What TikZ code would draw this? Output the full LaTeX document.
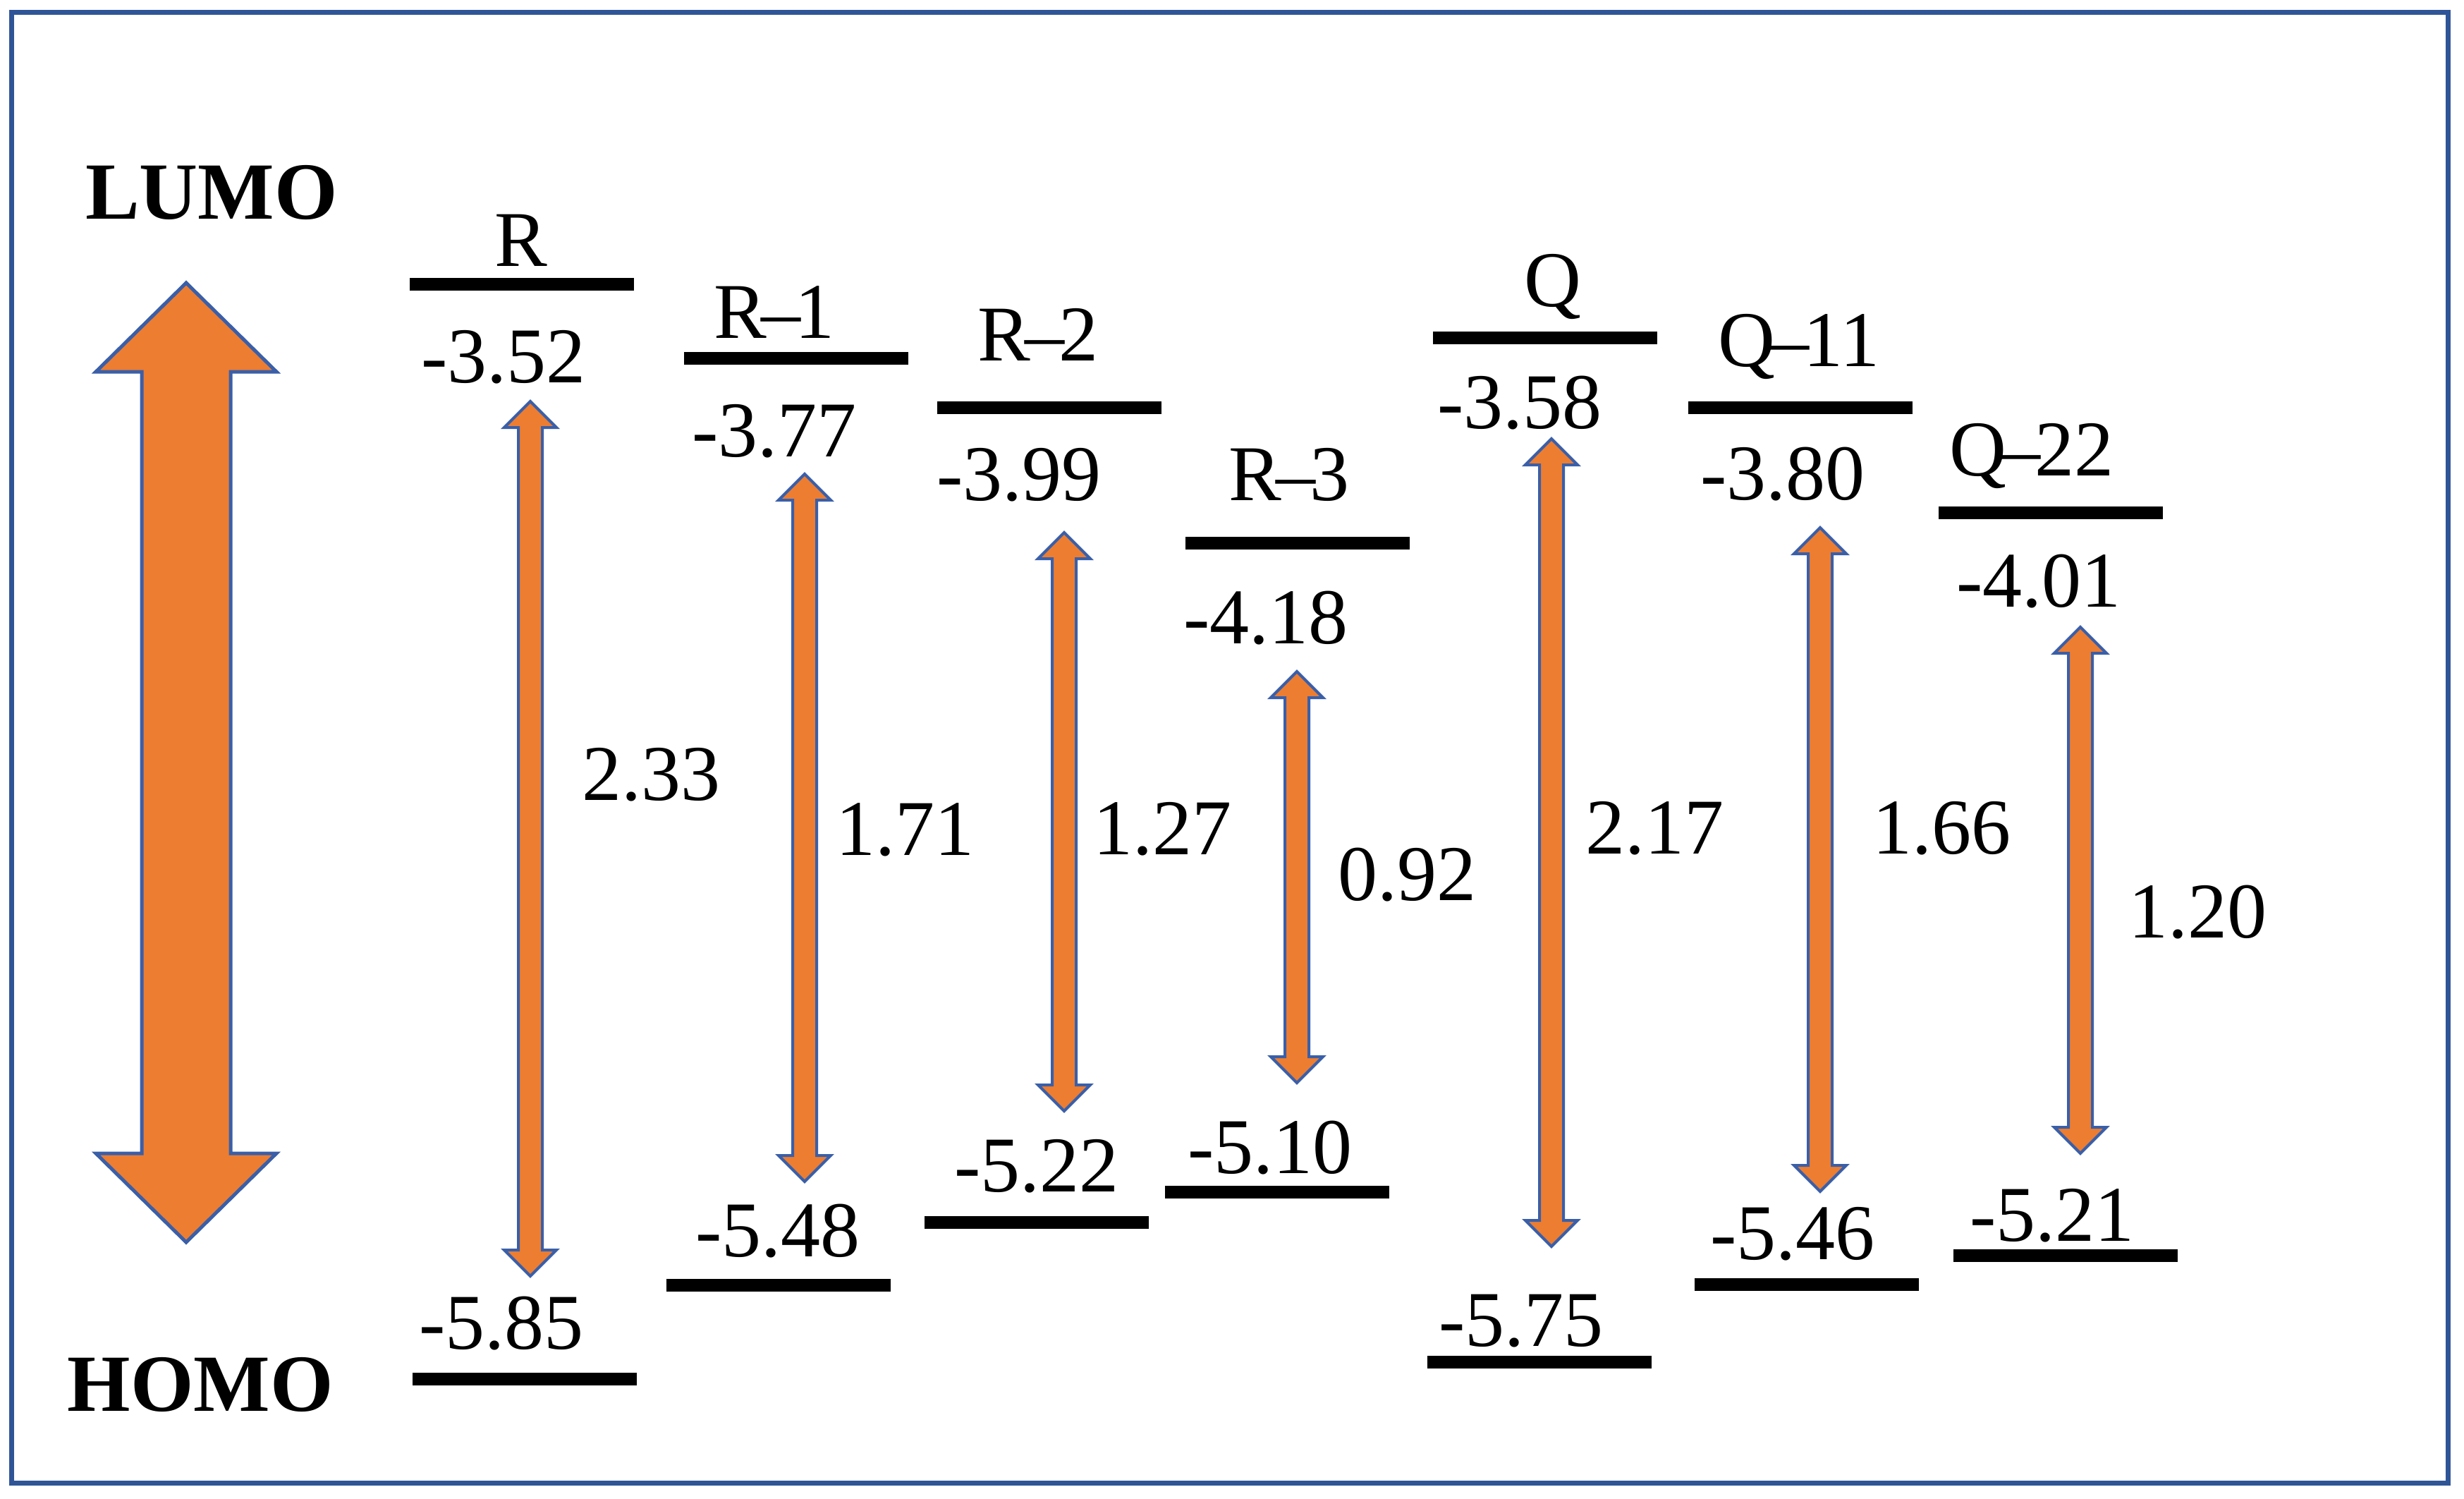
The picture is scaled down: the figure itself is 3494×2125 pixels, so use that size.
\documentclass[tikz,border=0pt]{standalone}
\usepackage{fontspec}
\setmainfont{Liberation Serif}
\definecolor{frameblue}{HTML}{2F5597}
\definecolor{arrorange}{HTML}{ED7D31}
\definecolor{arrblue}{HTML}{3A5FA8}
\newcommand{\gaparrow}[6]{%
  \draw[arrowshape] (#1,#2) -- ({#1+#5},{#2+#6}) -- ({#1+#4},{#2+#6}) -- ({#1+#4},{#3-#6})
    -- ({#1+#5},{#3-#6}) -- (#1,#3) -- ({#1-#5},{#3-#6}) -- ({#1-#4},{#3-#6})
    -- ({#1-#4},{#2+#6}) -- ({#1-#5},{#2+#6}) -- cycle;}
\begin{document}
\begin{tikzpicture}[x=1pt,y=-1pt,
  arrowshape/.style={fill=arrorange,draw=arrblue,line width=4pt,line join=miter},
  levelbar/.style={fill=black,draw=none,inner sep=0pt,minimum width=318pt,minimum height=18pt},
  lbl/.style={inner sep=0pt,anchor=base,font=\fontsize{112}{120}\selectfont},
  blbl/.style={inner sep=0pt,anchor=base,font=\fontsize{115}{120}\selectfont\bfseries}]
\useasboundingbox (0,0) rectangle (3494,2125);
\fill[white] (0,0) rectangle (3494,2125);
\draw[frameblue,line width=7pt] (16,18) rectangle (3471,2102);

% side labels and big arrow
\node[blbl] (lumo) at (300,310) {LUMO};
\node[blbl] (homo) at (284,2000) {HOMO};
\draw[arrowshape,line width=5pt] (264,401) -- (392,527) -- (327,527) -- (327,1635) -- (392,1635)
  -- (264,1761) -- (136,1635) -- (201,1635) -- (201,527) -- (136,527) -- cycle;

% level bars
\node[levelbar] (Rl) at (740,403) {};
\node[levelbar] (Rh) at (744,1955) {};
\node[levelbar] (R1l) at (1129,508) {};
\node[levelbar] (R1h) at (1104,1822) {};
\node[levelbar] (R2l) at (1488,578) {};
\node[levelbar] (R2h) at (1470,1733) {};
\node[levelbar] (R3l) at (1840,770) {};
\node[levelbar] (R3h) at (1811,1690) {};
\node[levelbar] (Ql) at (2191,479) {};
\node[levelbar] (Qh) at (2183,1931) {};
\node[levelbar] (Q11l) at (2553,578) {};
\node[levelbar] (Q11h) at (2562,1821) {};
\node[levelbar] (Q22l) at (2908,727) {};
\node[levelbar] (Q22h) at (2929,1780) {};

% names
\newcommand{\ndash}{\kern-0.07em--\kern-0.07em}
\node[lbl] (nR) at (739,377) {R};
\node[lbl] (nR1) at (1098,479) {R\ndash 1};
\node[lbl] (nR2) at (1472,511) {R\ndash 2};
\node[lbl] (nR3) at (1828,709) {R\ndash 3};
\node[lbl] (nQ) at (2202,434) {Q};
\node[lbl] (nQ11) at (2551,519) {Q\ndash 11};
\node[lbl] (nQ22) at (2881,674) {Q\ndash 22};

% LUMO values
\node[lbl] (vRl) at (714,542) {-3.52};
\node[lbl] (vR1l) at (1098,647) {-3.77};
\node[lbl] (vR2l) at (1445,709) {-3.99};
\node[lbl] (vR3l) at (1795,912) {-4.18};
\node[lbl] (vQl) at (2155,607) {-3.58};
\node[lbl] (vQ11l) at (2528,708) {-3.80};
\node[lbl] (vQ22l) at (2891,860) {-4.01};

% HOMO values
\node[lbl] (vRh) at (711,1912) {-5.85};
\node[lbl] (vR1h) at (1103,1781) {-5.48};
\node[lbl] (vR2h) at (1470,1689) {-5.22};
\node[lbl] (vR3h) at (1801,1663) {-5.10};
\node[lbl] (vQh) at (2157,1908) {-5.75};
\node[lbl] (vQ11h) at (2542,1785) {-5.46};
\node[lbl] (vQ22h) at (2910,1759) {-5.21};

% gap arrows
\gaparrow{752}{569}{1809}{17}{37}{37}
\gaparrow{1141}{672}{1675}{17}{37}{37}
\gaparrow{1509}{755}{1575}{17}{37}{37}
\gaparrow{1839}{952}{1535}{17}{37}{37}
\gaparrow{2200}{622}{1767}{17}{37}{37}
\gaparrow{2581}{748}{1689}{17}{37}{37}
\gaparrow{2950}{889}{1635}{17}{37}{37}

% gap values
\node[lbl] (gR) at (923,1134) {2.33};
\node[lbl] (gR1) at (1283,1212) {1.71};
\node[lbl] (gR2) at (1648,1211) {1.27};
\node[lbl] (gR3) at (1995,1276) {0.92};
\node[lbl] (gQ) at (2346,1210) {2.17};
\node[lbl] (gQ11) at (2753,1210) {1.66};
\node[lbl] (gQ22) at (3116,1329) {1.20};
\end{tikzpicture}
\end{document}
